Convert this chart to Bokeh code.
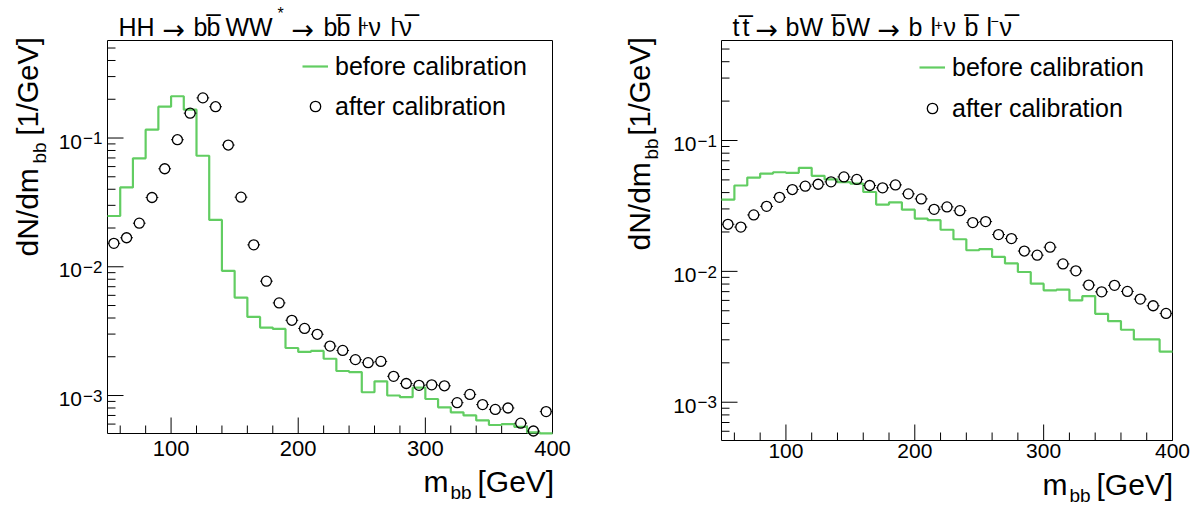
import math
from bokeh.plotting import figure
from bokeh.models import Label, Legend, LegendItem, Range1d
from bokeh.layouts import row
from bokeh.embed import file_html
from bokeh.resources import INLINE

FONT = "Liberation Sans"
ARROW_FONT = "DejaVu Sans"
GREEN = "#62cd62"
KSHIFT = 0.37   # Label vertical anchor correction (fraction of font size)

# ---------------- data ----------------
bin_edges = list(range(50, 401, 10))
bin_centers = [e + 5 for e in range(50, 400, 10)]

hh_before = [0.0248, 0.0413, 0.0695, 0.116, 0.175, 0.211, 0.166, 0.0728, 0.0231, 0.0093,
             0.00576, 0.00408, 0.00337, 0.00329, 0.00234, 0.00218, 0.00222, 0.00193, 0.00155, 0.00152,
             0.00106, 0.00129, 0.00100, 0.00097, 0.00115, 0.00094, 0.00081, 0.00074, 0.00070, 0.00064,
             0.00059, 0.00060, 0.00057, 0.000518, 0.000508]
hh_after = [0.0152, 0.0168, 0.0218, 0.0345, 0.0577, 0.097, 0.156, 0.205, 0.175, 0.0882,
            0.0347, 0.0148, 0.00773, 0.00524, 0.00384, 0.00332, 0.00299, 0.00242, 0.00224, 0.00190,
            0.00180, 0.00184, 0.00141, 0.00124, 0.00120, 0.00121, 0.00119, 0.00088, 0.00102, 0.00085,
            0.00078, 0.00080, 0.00061, 0.00053, 0.00075]
tt_before = [0.0353, 0.0453, 0.0521, 0.0559, 0.0572, 0.0566, 0.0618, 0.0537, 0.0504, 0.0480,
             0.0469, 0.0404, 0.0324, 0.0337, 0.0296, 0.0253, 0.0246, 0.0208, 0.0176, 0.0145,
             0.0148, 0.0129, 0.0115, 0.00989, 0.00805, 0.00716, 0.00724, 0.00600, 0.00648, 0.00474,
             0.00417, 0.00358, 0.00302, 0.00302, 0.00244]
tt_after = [0.0229, 0.0218, 0.0270, 0.0314, 0.0368, 0.0422, 0.0448, 0.0463, 0.0483, 0.0527,
            0.0504, 0.0453, 0.0435, 0.0458, 0.0391, 0.0358, 0.0298, 0.0311, 0.0291, 0.0236,
            0.0240, 0.0191, 0.0178, 0.0143, 0.0133, 0.0153, 0.0114, 0.0101, 0.00786, 0.00698,
            0.00782, 0.00703, 0.00614, 0.00546, 0.00477]

x_major_ticks = [100, 200, 300, 400]
x_minor_ticks = [60, 80, 120, 140, 160, 180, 220, 240, 260, 280, 320, 340, 360, 380]
x_tick_labels = ["100", "200", "300", "400"]
y_decades = [1e-3, 1e-2, 1e-1]
y_minor_mult = [2, 3, 4, 5, 6, 7, 8, 9]
y_exponents = ["\u22123", "\u22122", "\u22121"]
legend_labels = ["before calibration", "after calibration"]
x_title = ("m", "bb", "[GeV]")
y_title = ("dN/dm", "bb", "[1/GeV]")

OV = "\u0305"
AR = "\u2192"
# (text, page x, kind) kind 0 normal, 1 high superscript, 2 superscript plus, 3 superscript minus, 4 arrow
hh_title = [("HH", 118, 0), (AR, 162, 4), ("b", 193, 0), ("b" + OV, 206, 0), ("WW", 225, 0),
            ("*", 277, 1), (AR, 291, 4), ("b", 323, 0), ("b" + OV, 336, 0), ("l", 357, 0),
            ("+", 360, 2), ("\u03bd", 368, 0), ("l", 390, 0), ("\u2212", 393, 3), ("\u03bd" + OV, 399, 0)]
tt_title = [("t", 732, 0), ("t" + OV, 742, 0), (AR, 755, 4), ("bW", 785, 0), ("b" + OV, 831, 0),
            ("W", 846, 0), (AR, 877, 4), ("b", 908, 0), ("l", 930, 0), ("+", 934, 2),
            ("\u03bd", 943, 0), ("b" + OV, 964, 0), ("l", 986, 0), ("\u2212", 990, 3), ("\u03bd" + OV, 999, 0)]


class Geom:
    """Maps page pixels to data coordinates for one figure whose frame is its whole canvas."""
    def __init__(self, off_x, W, H, fl, ft, fr, fb, ylo, yhi):
        self.off_x, self.W, self.H = off_x, W, H
        self.fl, self.ft, self.fr, self.fb = fl, ft, fr, fb
        self.x0, self.x1 = 50.0, 400.0
        self.ylo, self.yhi = ylo, yhi
        self.sx = (fr - fl) / (self.x1 - self.x0)                       # px per GeV
        self.dy = (math.log10(yhi) - math.log10(ylo)) / (fb - ft)       # decades per px
        self.xa = self.x0 - (fl - off_x) / self.sx
        self.xb = self.x1 + (off_x + W - fr) / self.sx
        self.ya = 10 ** (math.log10(ylo) - (H - fb) * self.dy)
        self.yb = 10 ** (math.log10(yhi) + ft * self.dy)

    def data(self, px, py):
        return (self.x0 + (px - self.fl) / self.sx,
                10 ** (math.log10(self.yhi) - (py - self.ft) * self.dy))

    def page_y(self, v):
        return self.ft + (math.log10(self.yhi) - math.log10(v)) / self.dy


def txt(p, g, px, py, text, size, align="left", rotated=False, font=FONT):
    # (px, py) is the wanted baseline point in page pixels
    if rotated:
        px = px - KSHIFT * size
    else:
        py = py - KSHIFT * size
    xd, yd = g.data(px, py)
    p.add_layout(Label(x=xd, y=yd, text=text, text_font=font, text_font_size=f"{size}px",
                       text_align=align, text_baseline="alphabetic",
                       angle=(math.pi / 2 if rotated else 0.0), text_color="black"))


def make_panel(g, before, after, title_parts, leg, ten_right, xlab_base, xlab_size,
               ytitle, xtitle):
    p = figure(width=g.W, height=g.H, x_range=Range1d(g.xa, g.xb), y_range=Range1d(g.ya, g.yb),
               y_axis_type="log", x_axis_location=None, y_axis_location=None,
               min_border_left=0, min_border_right=0, min_border_top=0, min_border_bottom=0,
               output_backend="svg", toolbar_location=None)
    p.grid.visible = False
    p.outline_line_color = None
    p.background_fill_color = "white"
    p.border_fill_color = "white"

    lo, hi = g.ylo, g.yhi
    # frame box
    p.quad(left=[g.x0], right=[g.x1], bottom=[lo], top=[hi], fill_color=None,
           line_color="black", line_width=1)
    # x ticks (inside)
    up16 = lo * 10 ** (16 * g.dy)
    up8 = lo * 10 ** (8 * g.dy)
    p.segment(x0=x_major_ticks, x1=x_major_ticks, y0=[lo] * 4, y1=[up16] * 4,
              line_color="black", line_width=1)
    p.segment(x0=x_minor_ticks, x1=x_minor_ticks, y0=[lo] * len(x_minor_ticks),
              y1=[up8] * len(x_minor_ticks), line_color="black", line_width=1)
    # y ticks (inside)
    yminor = [m * d / 10 for d in y_decades + [1.0] for m in y_minor_mult if lo <= m * d / 10 <= hi]
    p.segment(x0=[g.x0] * 3, x1=[g.x0 + 16 / g.sx] * 3, y0=y_decades, y1=y_decades,
              line_color="black", line_width=1)
    p.segment(x0=[g.x0] * len(yminor), x1=[g.x0 + 8 / g.sx] * len(yminor), y0=yminor, y1=yminor,
              line_color="black", line_width=1)

    # histogram (before calibration) as a step line
    xs, ys = [], []
    for i, v in enumerate(before):
        xs += [bin_edges[i], bin_edges[i + 1]]
        ys += [v, v]
    hist = p.line(xs, ys, line_color=GREEN, line_width=2.2)

    # points (after calibration) with bin-width error stubs
    half, gap = 5.0, 4.8 / g.sx
    p.segment(x0=[c - half for c in bin_centers], x1=[c - gap for c in bin_centers],
              y0=after, y1=after, line_color="black", line_width=1)
    p.segment(x0=[c + gap for c in bin_centers], x1=[c + half for c in bin_centers],
              y0=after, y1=after, line_color="black", line_width=1)
    pts = p.scatter(bin_centers, after, marker="circle", size=10, fill_color=None,
                    line_color="black", line_width=1.3)

    legend = Legend(items=[LegendItem(label=legend_labels[0], renderers=[hist]),
                           LegendItem(label=legend_labels[1], renderers=[pts])],
                    location=leg[0], orientation="vertical", glyph_width=26, glyph_height=30,
                    label_height=30, label_standoff=7, spacing=leg[1], padding=0, margin=0,
                    border_line_alpha=0, background_fill_alpha=0,
                    label_text_font=FONT, label_text_font_size="25px", label_text_color="black")
    p.add_layout(legend)

    # x tick labels
    for t, s in zip(x_major_ticks, x_tick_labels):
        px = g.fl + (t - g.x0) * g.sx
        txt(p, g, px, xlab_base, s, xlab_size, align="center")

    # y tick labels 10^n
    for d, e in zip(y_decades, y_exponents):
        py = g.page_y(d)
        txt(p, g, ten_right, py + 11.5, "10", 21, align="right")
        txt(p, g, ten_right + 1, py + 6.5, e, 17)

    # title
    for t, x, kind in title_parts:
        if kind == 0:
            txt(p, g, x, 36, t, 25)
        elif kind == 1:
            txt(p, g, x, 18.5, t, 16)
        elif kind == 2:
            txt(p, g, x, 30, t, 14)
        elif kind == 3:
            txt(p, g, x, 26, t, 14)
        else:
            txt(p, g, x, 39, t, 27, font=ARROW_FONT)

    # y title (rotated)
    bx, y0, y1, y2 = ytitle
    txt(p, g, bx, y0, y_title[0], 30, rotated=True)
    txt(p, g, bx + 8, y1, y_title[1], 19, rotated=True)
    txt(p, g, bx, y2, y_title[2], 29, rotated=True)

    # x title
    by, x0, x1, x2 = xtitle
    txt(p, g, x0, by, x_title[0], 30)
    txt(p, g, x1, by + 7, x_title[1], 19)
    txt(p, g, x2, by, x_title[2], 30)
    return p


W1, W2, H = 600, 598, 506
g1 = Geom(0, W1, H, 107, 40, 552, 433, 5.07e-4, 0.572)
g2 = Geom(W1, W2, H, 721, 40, 1172, 440, 5.1e-4, 0.581)

p1 = make_panel(g1, hh_before, hh_after, hh_title,
                leg=((302, H - 106 - 15), 10), ten_right=81.5, xlab_base=456, xlab_size=22,
                ytitle=(38.5, 256, 163, 135), xtitle=(492, 423, 450, 477))
p2 = make_panel(g2, tt_before, tt_after, tt_title,
                leg=((919 - W1, H - 108 - 15), 11), ten_right=696, xlab_base=458, xlab_size=21,
                ytitle=(650, 250, 159, 135), xtitle=(495, 1042, 1069, 1096))

layout = row(p1, p2)
open("out.html", "w").write(file_html(layout, INLINE))
